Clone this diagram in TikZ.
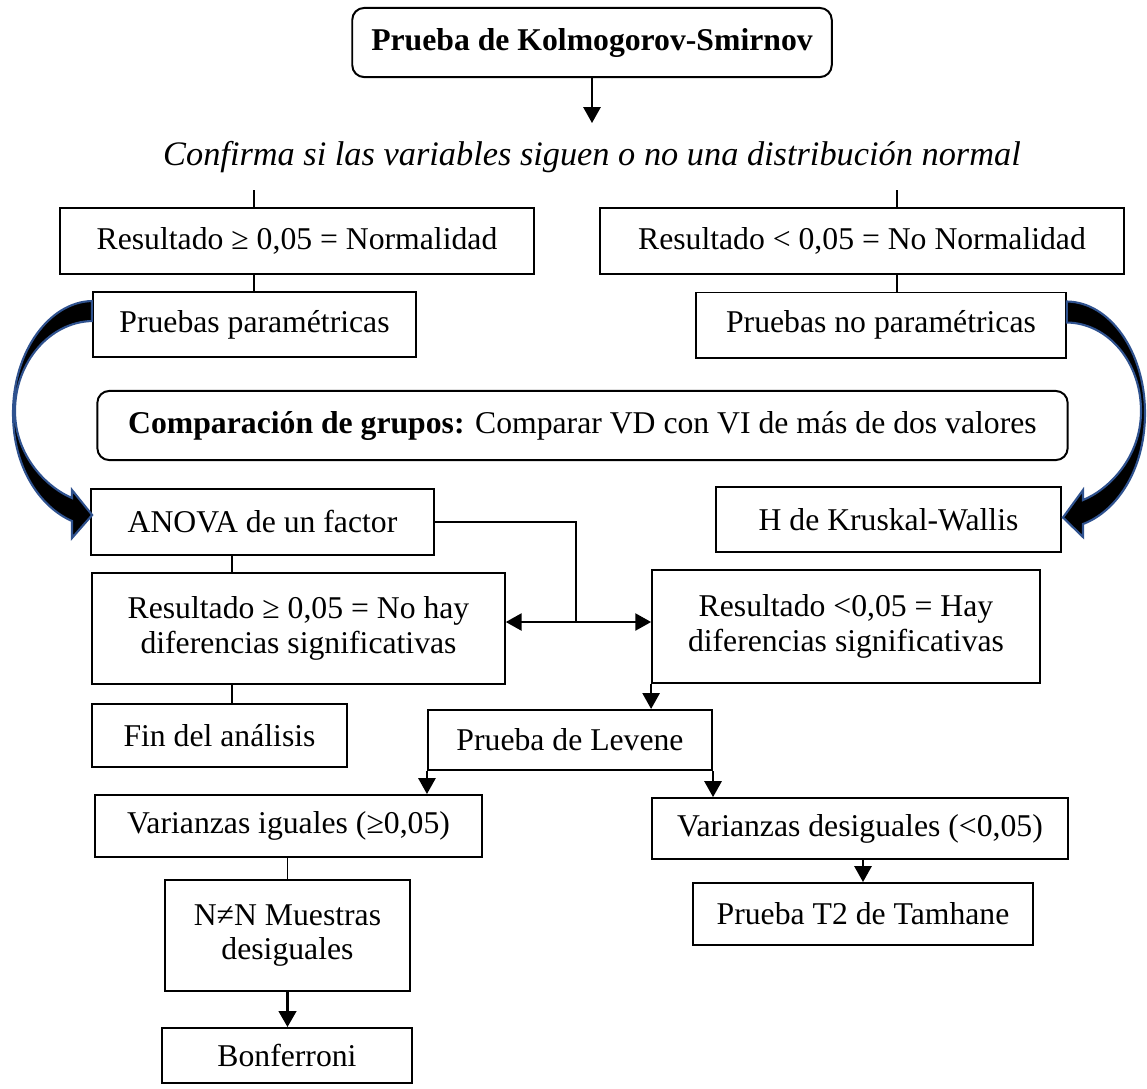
\documentclass[tikz,border=0pt]{standalone}
\usepackage{fontspec}
\setmainfont{Liberation Serif}
\usepackage{tikz}
\usetikzlibrary{positioning,arrows.meta,calc}
\definecolor{blue1}{HTML}{2F528F}

\begin{document}
\begin{tikzpicture}[
    x=0.0133cm, y=-0.0133cm,
    >={Triangle[length=6pt,width=6.5pt]},
    box/.style={draw, line width=0.75pt, inner sep=2pt, align=center,
                font=\fontsize{12}{13}\selectfont},
    rbox/.style={box, rounded corners=4.5pt},
    link/.style={line width=0.75pt},
    arr/.style={->, line width=0.75pt},
    bigarrow/.style={fill=black, draw=blue1, line width=0.8pt, line join=miter},
]
\useasboundingbox (0,0) rectangle (1147,1088);

\node[rbox, minimum width=6.38cm, minimum height=0.92cm]
    (kolm) at (592,42.5) {\textbf{Prueba de Kolmogorov-Smirnov}};
\node[font=\fontsize{13}{14}\selectfont\itshape, inner sep=0pt]
    (conf) at (592,157) {Confirma si las variables siguen o no una distribución normal};
\coordinate (conftop) at (592,123);
\coordinate (ltick) at (254,190);
\coordinate (rtick) at (897,190);

\node[box, minimum width=6.3cm, minimum height=0.88cm]
    (r1) at (297,241) {Resultado ≥ 0,05 = Normalidad};
\node[box, minimum width=6.98cm, minimum height=0.88cm]
    (r2) at (862,241) {Resultado < 0,05 = No Normalidad};
\node[box, minimum width=4.3cm, minimum height=0.865cm]
    (p1) at (254.5,324.5) {Pruebas paramétricas};
\node[box, minimum width=4.92cm, minimum height=0.865cm]
    (p2) at (881,325) {Pruebas no paramétricas};
\node[rbox, minimum width=12.91cm, minimum height=0.92cm]
    (comp) at (582.5,425.5) {\textbf{Comparación de grupos:} Comparar VD con VI de más de dos valores};

\node[box, minimum width=4.56cm, minimum height=0.88cm]
    (anova) at (262.5,522) {ANOVA de un factor};
\node[box, minimum width=4.59cm, minimum height=0.865cm]
    (kw) at (888.5,519.5) {H de Kruskal-Wallis};
\node[box, minimum width=5.49cm, minimum height=1.48cm]
    (resno) at (298.5,628.5) {Resultado ≥ 0,05 = No hay\\diferencias significativas};
\node[box, minimum width=5.16cm, minimum height=1.5cm]
    (reshay) at (846,626.5) {Resultado <0,05 = Hay\\diferencias significativas};
\coordinate (split) at (576,622);
\coordinate (lspine) at (232,0);

\node[box, minimum width=3.39cm, minimum height=0.84cm]
    (fin) at (219.5,735.5) {Fin del análisis};
\node[box, minimum width=3.78cm, minimum height=0.8cm]
    (lev) at (570,740) {Prueba de Levene};
\node[box, minimum width=5.15cm, minimum height=0.825cm]
    (varig) at (288.5,826) {Varianzas iguales (≥0,05)};
\node[box, minimum width=5.53cm, minimum height=0.81cm]
    (vardes) at (860,828.5) {Varianzas desiguales (<0,05)};
\node[box, minimum width=3.26cm, minimum height=1.48cm]
    (nn) at (287.5,935.5) {N≠N Muestras\\desiguales};
\node[box, minimum width=4.52cm, minimum height=0.825cm]
    (tam) at (863,914) {Prueba T2 de Tamhane};
\node[box, minimum width=3.33cm, minimum height=0.73cm]
    (bonf) at (287,1055.5) {Bonferroni};

\draw[arr] (kolm.south) -- (conftop);
\draw[link] (ltick) -- (ltick |- r1.north);
\draw[link] (rtick) -- (rtick |- r2.north);
\draw[link] (r1.south -| ltick) -- (p1.north -| ltick);
\draw[link] (r2.south -| rtick) -- (p2.north -| rtick);

\filldraw[bigarrow] ($(p1.north west)+(0,10)$)
    .. controls (49,302) and (13,352) .. (13,413)
    .. controls (13,470) and (42,508) .. (72,521)
    -- (72,538) -- ($(anova.west)+(2,-7)$) -- (72,490) -- (72,498)
    .. controls (48,488) and (15,457) .. (15,411)
    .. controls (15,362) and (50,322) .. ($(p1.north west)+(0,30)$) -- cycle;
\filldraw[bigarrow] ($(p2.north east)+(0,10)$)
    .. controls (1110,302) and (1145,352) .. (1145,413)
    .. controls (1145,472) and (1115,512) .. (1083,524)
    -- (1083,537) -- ($(kw.east)+(1,-2)$) -- (1083,490) -- (1083,500)
    .. controls (1108,490) and (1141,458) .. (1141,411)
    .. controls (1141,362) and (1108,323) .. ($(p2.north east)+(0,31)$) -- cycle;

\draw[link] (anova.east) -| (split);
\draw[arr, <->] (resno.east |- split) -- (reshay.west |- split);
\draw[link] (anova.south -| lspine) -- (resno.north -| lspine);
\draw[link] (resno.south -| lspine) -- (fin.north -| lspine);
\draw[arr] (reshay.south west) -- (reshay.south west |- lev.north);
\draw[arr] (lev.south west) -- (lev.south west |- varig.north);
\draw[arr] (lev.south east) -- (lev.south east |- vardes.north);
\draw[link] (varig.south -| nn) -- (nn.north);
\draw[arr, line width=1.2pt] (nn.south) -- (nn.south |- bonf.north);
\draw[arr] (vardes.south -| tam) -- (tam.north);
\end{tikzpicture}
\end{document}
